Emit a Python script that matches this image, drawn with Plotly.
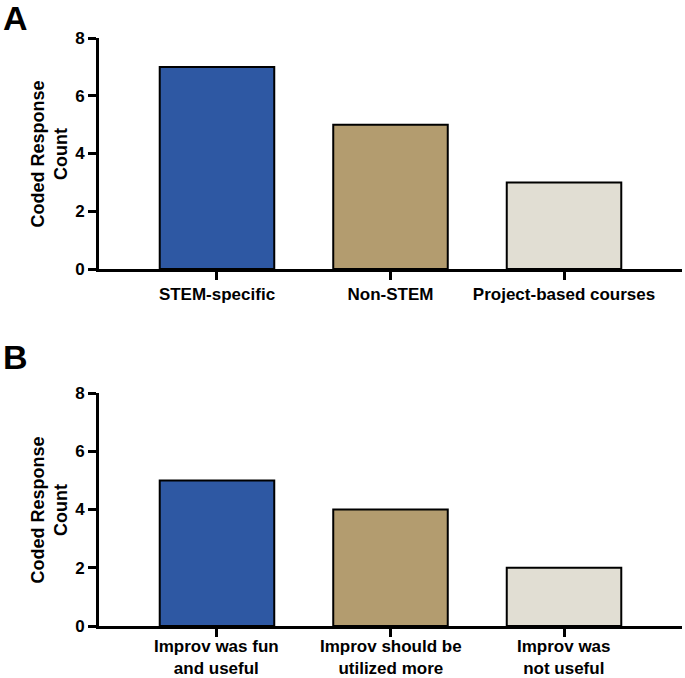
import plotly.graph_objects as go

cats_a = ["STEM-specific", "Non-STEM", "Project-based courses"]
vals_a = [7, 5, 3]
cats_b = ["Improv was fun<br>and useful", "Improv should be<br>utilized more", "Improv was<br>not useful"]
vals_b = [5, 4, 2]
colors = ["#2E58A3", "#B39C6F", "#E1DED3"]
y_ticks = [0, 2, 4, 6, 8]

W, H = 685, 678
FONT = "Liberation Sans, Arial, sans-serif"

def px_x(p):
    return p / W

def px_y(p):
    return 1 - p / H

fig = go.Figure()
fig.add_trace(go.Bar(x=cats_a, y=vals_a, marker=dict(color=colors, line=dict(color="black", width=2)),
                     width=0.66, xaxis="x", yaxis="y", showlegend=False))
fig.add_trace(go.Bar(x=cats_b, y=vals_b, marker=dict(color=colors, line=dict(color="black", width=2)),
                     width=0.66, xaxis="x2", yaxis="y2", showlegend=False))

xdom = [px_x(99), px_x(682)]
axis_common = dict(showline=True, linecolor="black", linewidth=3, ticks="outside", ticklen=8,
                   tickwidth=3, tickcolor="black", showgrid=False, zeroline=False, automargin=False,
                   tickfont=dict(family=FONT, size=17, color="black", weight="bold"))

fig.update_layout(
    width=W, height=H,
    margin=dict(l=0, r=0, t=0, b=0),
    plot_bgcolor="white", paper_bgcolor="white",
    font=dict(family=FONT, color="black"),
    xaxis=dict(domain=xdom, anchor="y", range=[-0.68, 2.68], **axis_common),
    yaxis=dict(domain=[px_y(269), px_y(38)], anchor="x", range=[0, 8], tickvals=y_ticks, **axis_common),
    xaxis2=dict(domain=xdom, anchor="y2", range=[-0.68, 2.68], showticklabels=False, **axis_common),
    yaxis2=dict(domain=[px_y(626), px_y(393)], anchor="x2", range=[0, 8], tickvals=y_ticks, **axis_common),
)

ann = []
for label, yc in [("A", 18), ("B", 357)]:
    ann.append(dict(text=f"<b>{label}</b>", x=px_x(16), y=px_y(yc), xref="paper", yref="paper",
                    showarrow=False, font=dict(family=FONT, size=34, color="black"),
                    xanchor="center", yanchor="middle"))
for yc in [(38 + 269) / 2, (393 + 626) / 2]:
    ann.append(dict(text="<b>Coded Response<br>Count</b>", x=px_x(49), y=px_y(yc), xref="paper", yref="paper",
                    showarrow=False, textangle=-90, font=dict(family=FONT, size=18, color="black"),
                    xanchor="center", yanchor="middle"))
for i, lab in enumerate(cats_b):
    ann.append(dict(text=f"<b>{lab}</b>", x=i, xref="x2", y=px_y(657), yref="paper",
                    showarrow=False, font=dict(family=FONT, size=17, color="black"),
                    xanchor="center", yanchor="middle"))
fig.update_layout(annotations=ann)

fig.write_html("out.html", config={"displayModeBar": False},
               post_script="document.body.style.margin='0';")
